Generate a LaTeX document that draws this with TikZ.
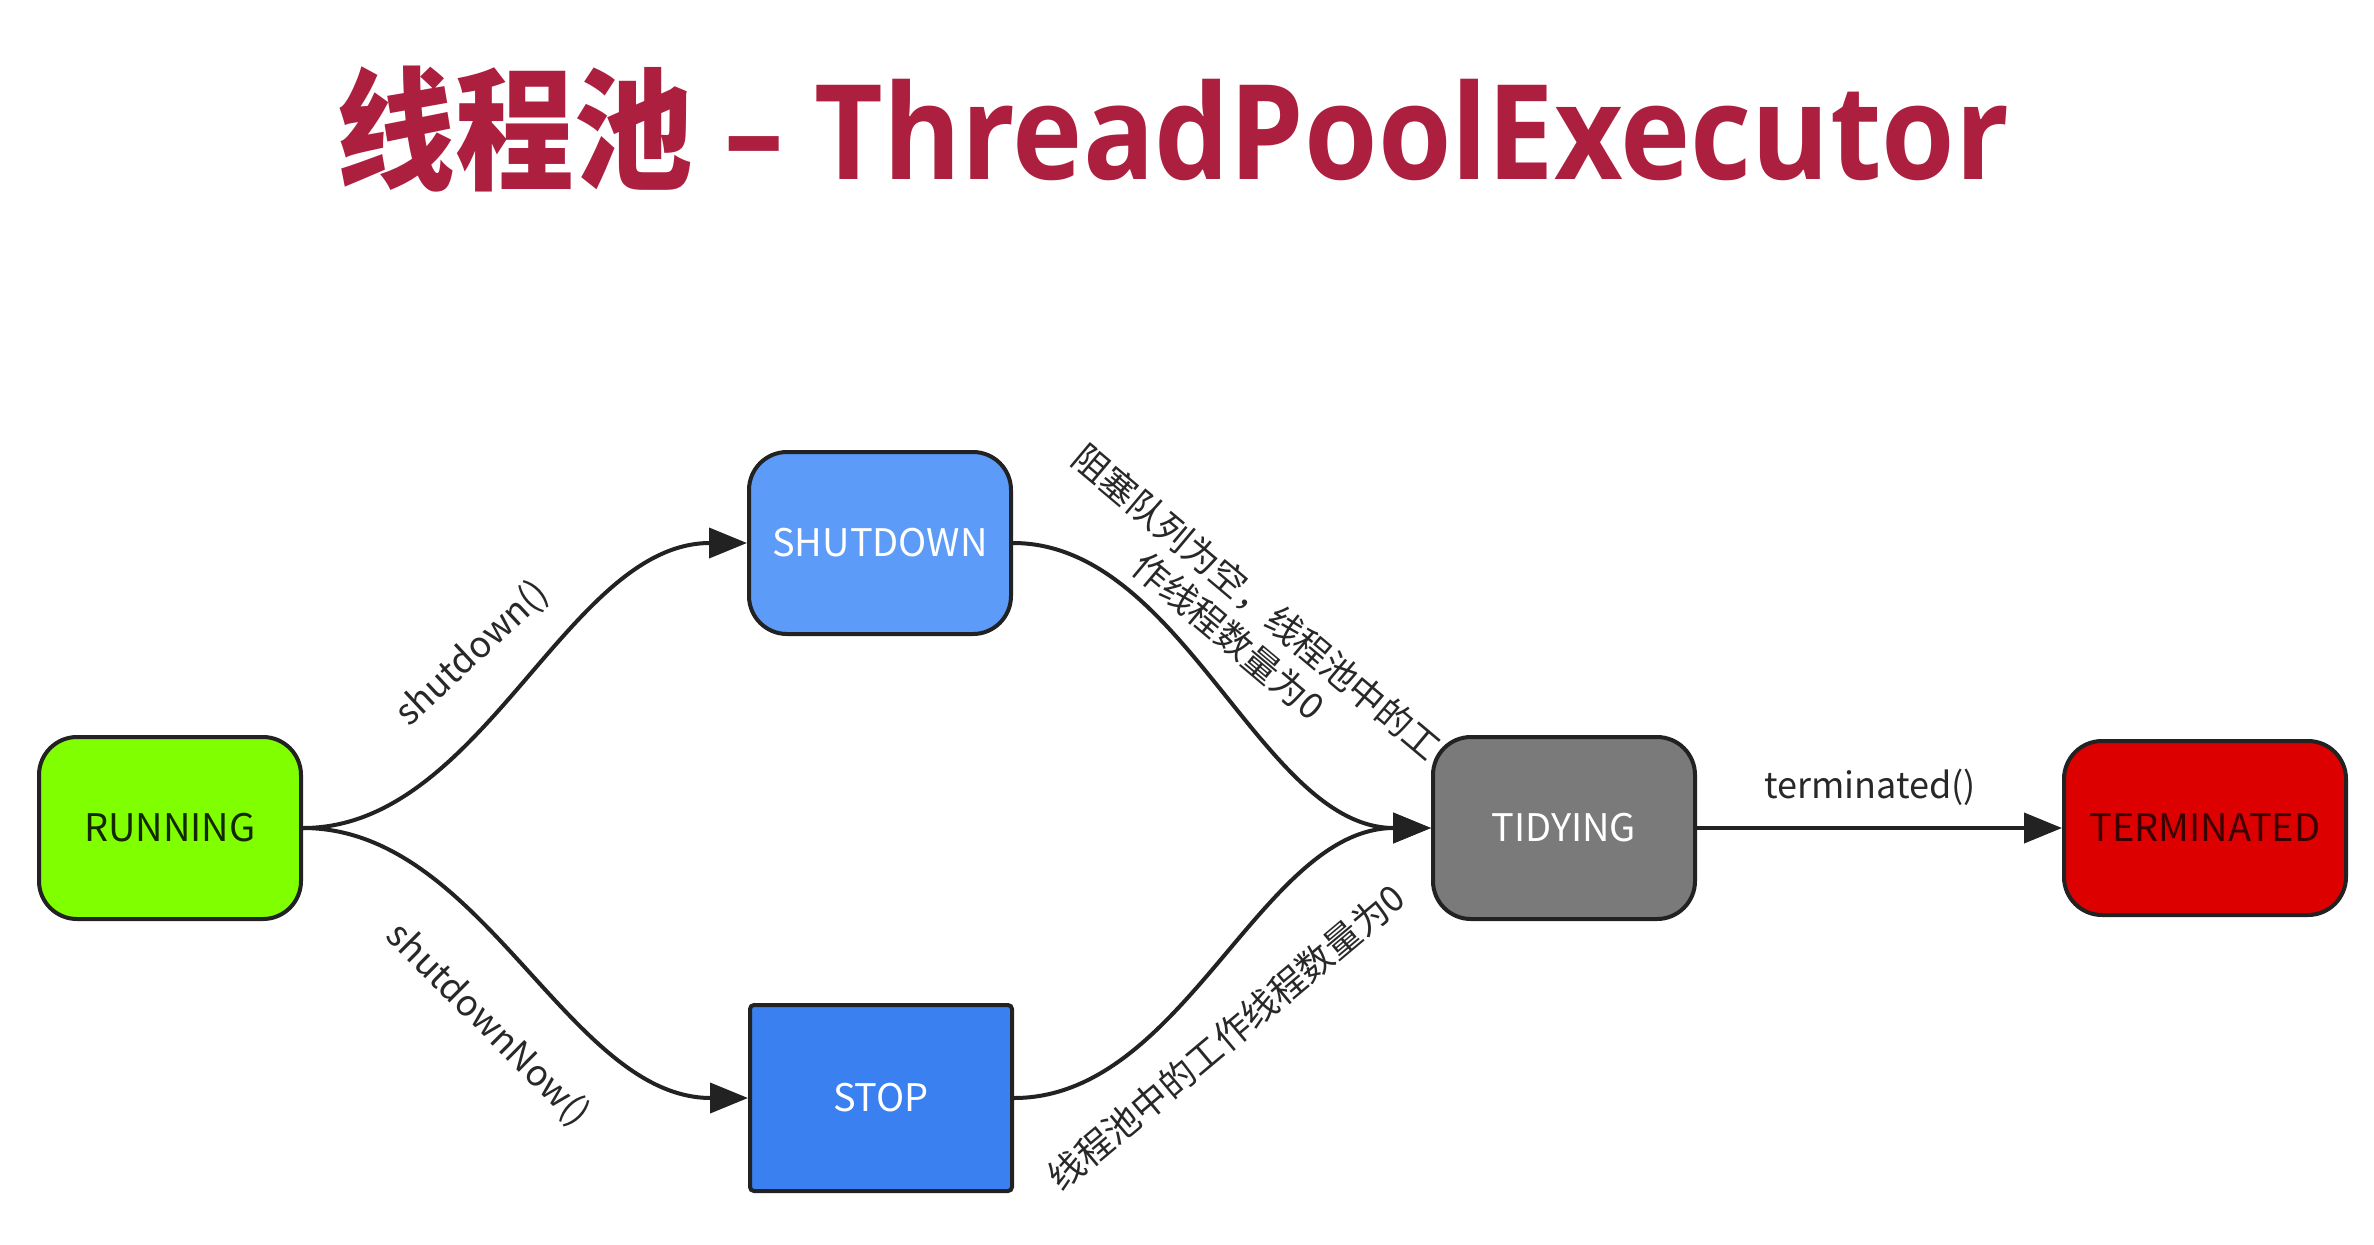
\documentclass[tikz,border=0pt]{standalone}
\usepackage{fontspec}
\setmainfont{Noto Sans CJK SC}
\newfontfamily\titlelat{Open Sans}
\usetikzlibrary{arrows.meta}
\definecolor{titlered}{RGB}{173,31,62}
\definecolor{linedark}{RGB}{34,34,34}
\definecolor{labelgray}{RGB}{40,40,40}
\definecolor{rungreen}{RGB}{128,255,0}
\definecolor{shutblue}{RGB}{92,156,248}
\definecolor{stopblue}{RGB}{58,128,240}
\definecolor{tidygray}{RGB}{122,122,122}
\definecolor{termred}{RGB}{221,0,0}
\begin{document}
\begin{tikzpicture}[x=0.5pt,y=-0.5pt,
  state/.style={draw=linedark, line width=2pt, rounded corners=19pt,
    minimum width=131pt, minimum height=91pt, inner sep=0pt,
    font=\fontsize{19}{22}\selectfont},
  conn/.style={draw=linedark, line width=2pt,
    -{Triangle[length=19pt,width=15pt]}},
  lbl/.style={font=\fontsize{18}{22}\selectfont, text=labelgray, inner sep=0pt}]
\useasboundingbox (0,0) rectangle (2374,1244);
\fill[white] (0,0) rectangle (2374,1244);

\node[anchor=base, text=titlered, inner sep=0pt] (title) at (1173,179)
  {\scalebox{0.9}[1]{\fontsize{66}{70}\selectfont\bfseries 线程池{\titlelat\bfseries{} – ThreadPoolExecutor}}};

\node[state, fill=rungreen, text={rgb,255:red,20;green,40;blue,0}] (run) at (170,828) {RUNNING};
\node[state, fill=shutblue, text=white] (shut) at (880,543) {SHUTDOWN};
\node[state, fill=stopblue, text=white, rounded corners=2pt, minimum height=93pt] (stop) at (881,1098) {STOP};
\node[state, fill=tidygray, text=white] (tidy) at (1564,828) {TIDYING};
\node[state, fill=termred, text={rgb,255:red,60;green,0;blue,0}, minimum width=141pt, minimum height=87pt] (term) at (2205,828) {TERMINATED};

\draw[conn] (run.east) .. controls +(180,0) and +(-180,0) .. (shut.west);
\draw[conn] (run.east) .. controls +(180,0) and +(-180,0) .. (stop.west);
\draw[conn] (shut.east) .. controls +(170,0) and +(-170,0) .. (tidy.west);
\draw[conn] (stop.east) .. controls +(170,0) and +(-170,0) .. (tidy.west);
\draw[conn] (tidy.east) -- (term.west);

\node[lbl, rotate=43] (l1) at (472,654) {shutdown()};
\node[lbl, rotate=-45] (l2) at (488,1025) {shutdownNow()};
\node[lbl, rotate=-40, align=center] (l3) at (1243,619) {阻塞队列为空，线程池中的工\\作线程数量为0};
\node[lbl, rotate=40] (l4) at (1226,1037) {线程池中的工作线程数量为0};
\node[lbl] (l5) at (1870,787) {terminated()};
\end{tikzpicture}
\end{document}
